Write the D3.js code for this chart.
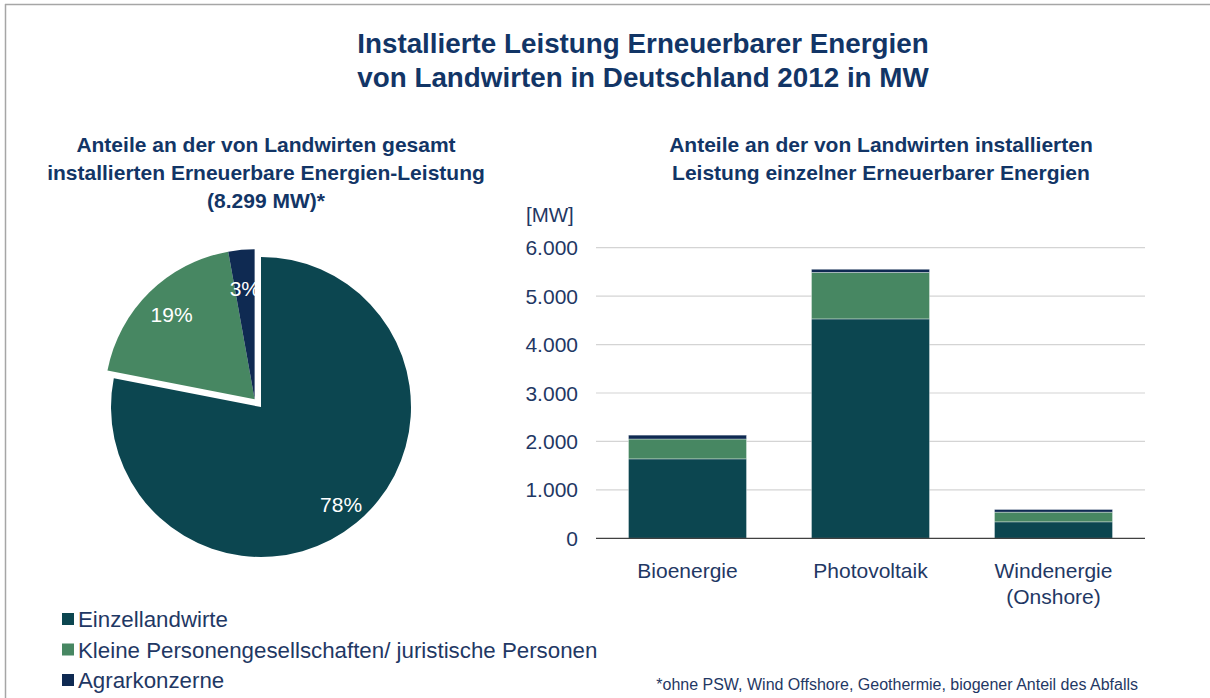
<!DOCTYPE html>
<html>
<head>
<meta charset="utf-8">
<script src="https://cdnjs.cloudflare.com/ajax/libs/d3/7.8.5/d3.min.js"></script>
<style>
  body { margin: 0; background: #fff; }
  svg text { font-family: Arial, "Liberation Sans", Helvetica, sans-serif; }
</style>
</head>
<body>
<div id="chart"></div>
<script>
width = 1210
height = 698

// data
let groups = ["Einzellandwirte", "Kleine Personengesellschaften/ juristische Personen", "Agrarkonzerne"]
let pieValues = [6480, 1585, 234]   // MW, gesamt 8.299 MW
let categories = ["Bioenergie", "Photovoltaik", "Windenergie|(Onshore)"]
let einzel = [1640, 4530, 340]
let klein = [410, 960, 200]
let agrar = [80, 65, 55]
let yTicks = [0, 1000, 2000, 3000, 4000, 5000, 6000]

let colors = ["#0c4650", "#478762", "#0f2a52"]
let navy = "#123566"
let textCol = "#1f3864"

let svg = d3.select("#chart")
    .append("svg")
    .attr("width", width)
    .attr("height", height)

// frame lines
svg.append("line").attr("x1", 5).attr("x2", width).attr("y1", 4.5).attr("y2", 4.5)
    .attr("stroke", "#a6a6a6").attr("stroke-width", 1.5)
svg.append("line").attr("x1", 5.5).attr("x2", 5.5).attr("y1", 4).attr("y2", height)
    .attr("stroke", "#a6a6a6").attr("stroke-width", 1.5)

// main title
let title = svg.append("text")
    .attr("text-anchor", "middle")
    .attr("fill", navy)
    .style("font-weight", "bold")
    .style("font-size", "27.8px")
title.append("tspan").attr("x", 643).attr("y", 53).text("Installierte Leistung Erneuerbarer Energien")
title.append("tspan").attr("x", 643).attr("y", 87).text("von Landwirten in Deutschland 2012 in MW")

// sub titles
function subTitle(x, y, lines) {
    let t = svg.append("text")
        .attr("text-anchor", "middle")
        .attr("fill", navy)
        .style("font-weight", "bold")
        .style("font-size", "21px")
    lines.forEach((l, i) => {
        t.append("tspan").attr("x", x).attr("y", y + i * 28).text(l)
    })
}
subTitle(266, 152, ["Anteile an der von Landwirten gesamt", "installierten Erneuerbare Energien-Leistung", "(8.299 MW)*"])
subTitle(881, 152, ["Anteile an der von Landwirten installierten", "Leistung einzelner Erneuerbarer Energien"])

// ---- pie ----
let cx = 261, cy = 407, r = 150
let total = d3.sum(pieValues)
let pie = d3.pie().sort(null)
let arcs = pie(pieValues)
let arc = d3.arc().innerRadius(0).outerRadius(r)
let labelR = [0.84, 0.79, 0.74]

// green + blue slice are pulled out together
let pullStart = arcs[1].startAngle, pullEnd = arcs[2].endAngle
let pullMid = (pullStart + pullEnd) / 2
let pull = 10

let pieG = svg.append("g").attr("transform", "translate(" + cx + "," + cy + ")")
arcs.forEach((a, i) => {
    let off = i == 0 ? [0, 0] : [Math.sin(pullMid) * pull, -Math.cos(pullMid) * pull]
    let g = pieG.append("g").attr("transform", "translate(" + off[0] + "," + off[1] + ")")
    g.append("path")
        .attr("d", arc(a))
        .attr("fill", colors[i])
    let lr = r * labelR[i]
    let c = d3.arc().innerRadius(lr).outerRadius(lr).centroid(a)
    g.append("text")
        .attr("x", c[0])
        .attr("y", c[1])
        .attr("dy", "0.35em")
        .attr("text-anchor", "middle")
        .attr("fill", "#ffffff")
        .style("font-size", "21px")
        .text(Math.round(a.value / total * 100) + "%")
})

// ---- stacked bars ----
let x = d3.scaleBand()
    .domain(categories)
    .range([596, 1145])
    .paddingInner(0.355)
    .paddingOuter(0.1775)

let y = d3.scaleLinear()
    .domain([0, 6000])
    .range([538.3, 247.7])

let barG = svg.append("g")

barG.selectAll("line.grid")
    .data(yTicks.filter(t => t > 0))
    .join("line")
    .attr("class", "grid")
    .attr("x1", 596).attr("x2", 1145)
    .attr("y1", d => y(d)).attr("y2", d => y(d))
    .attr("stroke", "#d4d4d4")
    .attr("stroke-width", 1.2)

let stackData = categories.map((c, i) => ({ cat: c, g0: einzel[i], g1: klein[i], g2: agrar[i] }))
let series = d3.stack().keys(["g0", "g1", "g2"])(stackData)

series.forEach((s, si) => {
    barG.append("g")
        .selectAll("rect")
        .data(s)
        .join("rect")
        .attr("x", d => x(d.data.cat))
        .attr("width", x.bandwidth())
        .attr("y", d => y(d[1]))
        .attr("height", d => y(d[0]) - y(d[1]))
        .attr("fill", colors[si])
        .attr("stroke", "#ffffff")
        .attr("stroke-opacity", 0.45)
        .attr("stroke-width", 0.8)
})

// axis line
barG.append("line")
    .attr("x1", 596).attr("x2", 1145)
    .attr("y1", y(0)).attr("y2", y(0))
    .attr("stroke", "#404040")
    .attr("stroke-width", 1.3)

// y ticks
barG.selectAll("text.ytick")
    .data(yTicks)
    .join("text")
    .attr("class", "ytick")
    .attr("x", 578)
    .attr("y", d => y(d))
    .attr("dy", "0.36em")
    .attr("text-anchor", "end")
    .attr("fill", textCol)
    .style("font-size", "21px")
    .text(d => d3.format(",")(d).replace(/,/g, "."))

barG.append("text")
    .attr("x", 526).attr("y", 222)
    .attr("fill", textCol)
    .style("font-size", "20.5px")
    .text("[MW]")

// category labels
categories.forEach(c => {
    let t = barG.append("text")
        .attr("text-anchor", "middle")
        .attr("fill", textCol)
        .style("font-size", "21px")
    c.split("|").forEach((l, i) => {
        t.append("tspan")
            .attr("x", x(c) + x.bandwidth() / 2)
            .attr("y", 578 + i * 26)
            .text(l)
    })
})

// ---- legend ----
let legend = svg.append("g").attr("transform", "translate(62, 627)")
groups.forEach((gname, i) => {
    let row = legend.append("g").attr("transform", "translate(0," + (i * 30.5) + ")")
    row.append("rect")
        .attr("x", 0).attr("y", -14)
        .attr("width", 12).attr("height", 12)
        .attr("fill", colors[i])
    row.append("text")
        .attr("x", 16).attr("y", 0)
        .attr("fill", textCol)
        .style("font-size", "22.3px")
        .text(gname)
})

// footnote
svg.append("text")
    .attr("x", 1138).attr("y", 690)
    .attr("text-anchor", "end")
    .attr("fill", textCol)
    .style("font-size", "16px")
    .text("*ohne PSW, Wind Offshore, Geothermie, biogener Anteil des Abfalls")
</script>
</body>
</html>
